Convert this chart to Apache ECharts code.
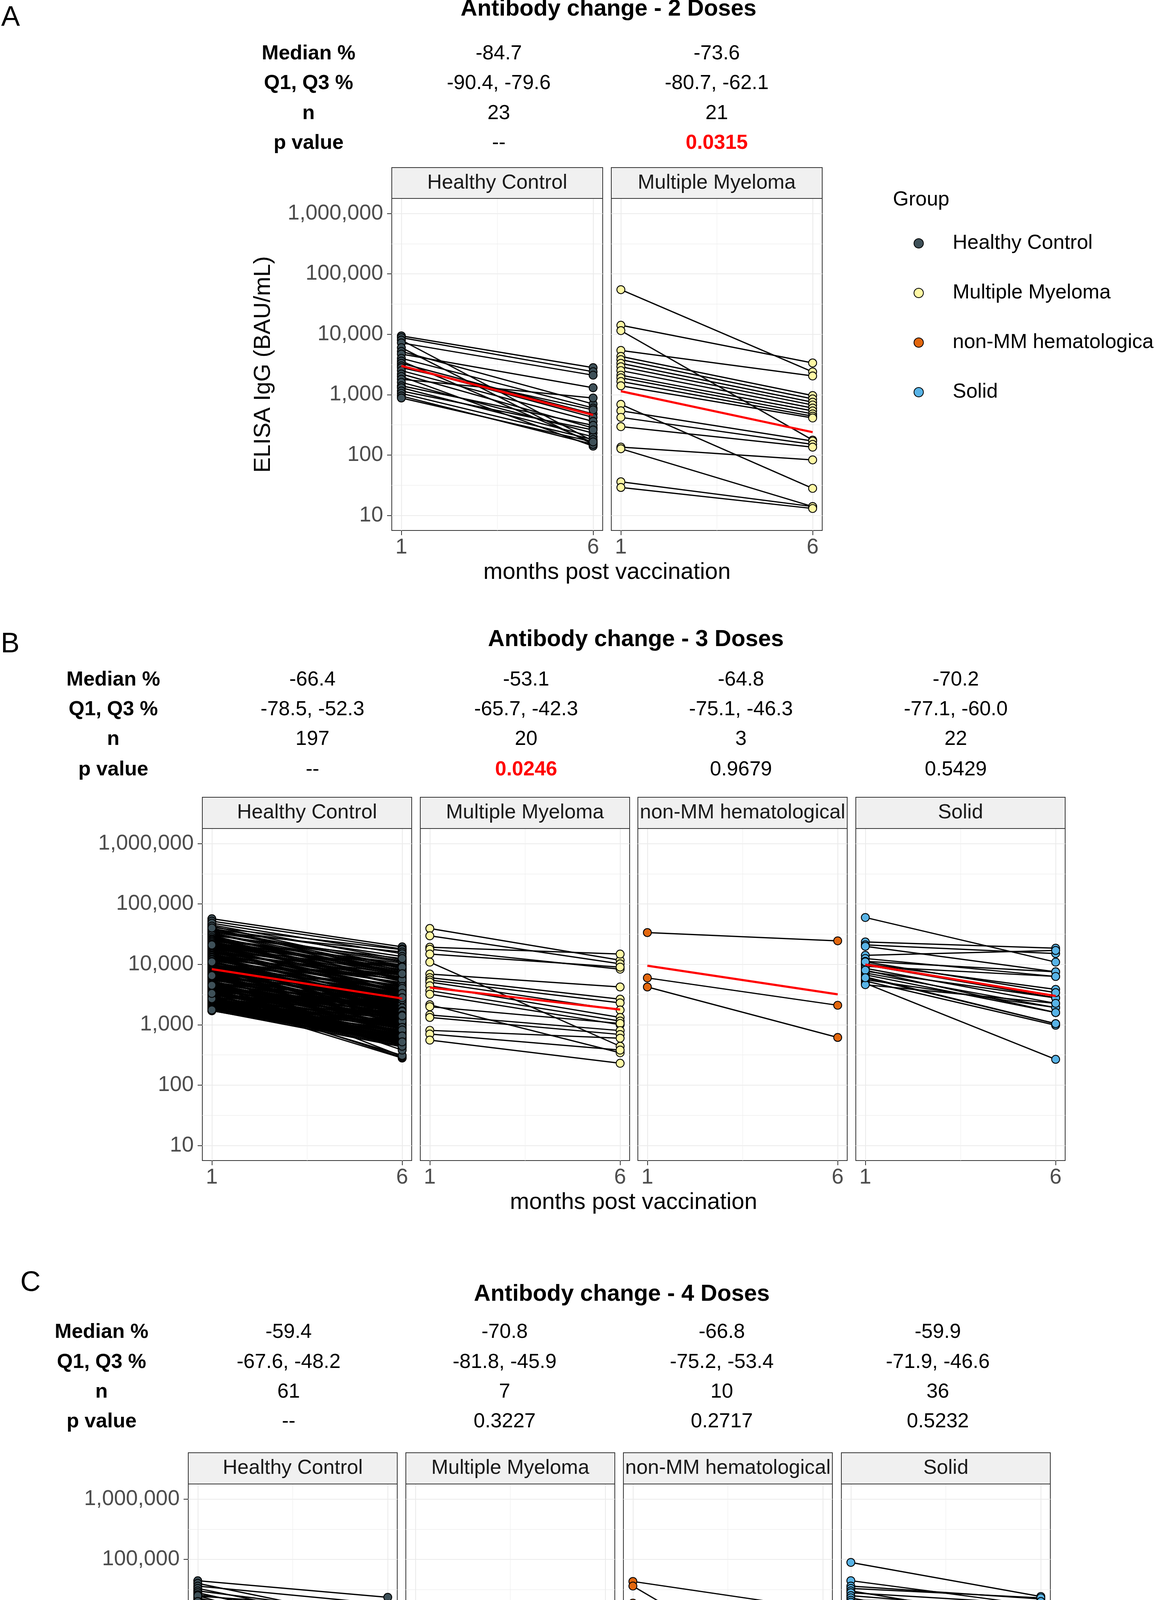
<!DOCTYPE html>
<html><head><meta charset="utf-8">
<script src="https://cdn.jsdelivr.net/npm/echarts@6/dist/echarts.min.js"></script>
<style>html,body{margin:0;padding:0;background:#fff}#c{width:2957px;height:4788px}</style>
</head><body><div id="c"></div>
<script>
// ---------------- DATA ----------------
const groupNames = ['Healthy Control', 'Multiple Myeloma', 'non-MM hematological', 'Solid'];
const xTimes = [1, 6];
const xTickLabels = ['1', '6'];
const yTickValues = [10, 100, 1000, 10000, 100000, 1000000];
const yTickLabels = ['10', '100', '1,000', '10,000', '100,000', '1,000,000'];
const yMinorValues = [31.6, 316, 3162, 31623, 316228];
const rowLetters = ['A', 'B', 'C'];
const rowTitles = ['Antibody change - 2 Doses', 'Antibody change - 3 Doses', 'Antibody change - 4 Doses'];
const statLabels = ['Median %', 'Q1, Q3 %', 'n', 'p value'];
const xAxisTitle = 'months post vaccination';
const yAxisTitle = 'ELISA IgG (BAU/mL)';
const legendTitle = 'Group';

// Row A: 2 doses
const aMedian = ['-84.7', '-73.6'];
const aQ1Q3 = ['-90.4, -79.6', '-80.7, -62.1'];
const aN = ['23', '21'];
const aP = ['--', '0.0315'];
const aHcMonth1 = [9400, 8800, 8000, 7200, 6000, 5200, 4700, 4000, 3600, 3300, 3000, 2800, 2500, 2200, 2000, 1800, 1600, 1400, 1300, 1150, 1050, 950, 880];
const aHcMonth6 = [2800, 2400, 170, 2100, 150, 700, 1300, 600, 160, 480, 420, 560, 360, 280, 140, 880, 230, 310, 200, 260, 180, 150, 165];
const aHcTrend = [2990, 461];
const aMmMonth1 = [54800, 14100, 11500, 5400, 4300, 3800, 3300, 2900, 2500, 2100, 1900, 1650, 1400, 690, 540, 420, 295, 135, 127, 36, 29];
const aMmMonth6 = [2380, 3350, 177, 2040, 966, 850, 750, 674, 600, 538, 480, 440, 411, 28, 170, 150, 135, 83, 14, 14, 13];
const aMmTrend = [1140, 239];

// Row B: 3 doses
const bMedian = ['-66.4', '-53.1', '-64.8', '-70.2'];
const bQ1Q3 = ['-78.5, -52.3', '-65.7, -42.3', '-75.1, -46.3', '-77.1, -60.0'];
const bN = ['197', '20', '3', '22'];
const bP = ['--', '0.0246', '0.9679', '0.5429'];
const bHcMonth1 = [
  57000, 52000, 45000, 41000, 38000, 35000, 33000, 31000, 29000, 27000,
  26000, 25000, 24000, 23000, 22000, 21000, 20000, 19500, 19000, 18000,
  17500, 17000, 16000, 15500, 15000, 14500, 14000, 13500, 13000, 12500,
  12000, 11500, 11000, 10800, 10500, 10000, 9700, 9400, 9100, 8800,
  8500, 8200, 8000, 7800, 7500, 7200, 7000, 6800, 6600, 6400,
  6200, 6000, 5800, 5600, 5400, 5200, 5000, 4850, 4700, 4550,
  4400, 4250, 4100, 4000, 3850, 3700, 3600, 3500, 3400, 3300,
  3200, 3100, 3000, 2900, 2800, 2700, 2600, 2500, 2450, 2400,
  2350, 2300, 2250, 2200, 2150, 2100, 2050, 2000, 1950, 1900,
  1850, 1800, 1750, 1700, 2600, 3000, 5000, 9000, 15000, 30000,
  48000, 43000, 39000, 36500, 34000, 32000, 30000, 28000, 26500, 25500,
  24500, 23500, 22500, 21500, 20500, 19800, 18500, 17800, 16500, 15800,
  15200, 14800, 14200, 13800, 13200, 12800, 12200, 11800, 11200, 10600,
  10200, 9900, 9500, 9200, 8900, 8700, 8300, 8100, 7900, 7600,
  7300, 7100, 6900, 6700, 6500, 6300, 6100, 5900, 5700, 5500,
  5300, 5100, 4950, 4800, 4650, 4500, 4350, 4200, 4050, 3950,
  3800, 3650, 3550, 3450, 3350, 3250, 3150, 3050, 2950, 2850,
  2750, 2650, 2550, 2480, 2420, 2380, 2320, 2280, 2220, 2180,
  2120, 2080, 2020, 1980, 1920, 1880, 1820, 1780, 1720, 2700,
  3300, 4500, 6500, 11000, 21000, 40000, 1760];
const bHcMonth6 = [
  19500, 18000, 12000, 17500, 9500, 16000, 8000, 11000, 7000, 9800,
  6500, 10500, 5200, 8800, 6000, 4500, 7500, 5800, 3900, 6200,
  4800, 3500, 5500, 4200, 3000, 5000, 3800, 2600, 4400, 3300,
  2400, 3600, 2900, 2100, 3100, 2700, 1900, 3400, 2300, 2800,
  1700, 2500, 2000, 1600, 2200, 3000, 1500, 1900, 2600, 1400,
  1800, 2100, 1300, 1700, 2400, 1200, 1600, 1100, 2000, 1450,
  1000, 1350, 1800, 950, 1250, 1550, 900, 1150, 1400, 850,
  1050, 1300, 800, 980, 1200, 750, 920, 700, 1100, 660,
  880, 620, 1000, 600, 820, 580, 760, 560, 700, 540,
  650, 520, 600, 500, 280, 290, 300, 2500, 900, 5500,
  15000, 9000, 13500, 8500, 11500, 7200, 12500, 6800, 9200, 5600,
  8200, 4600, 7800, 5300, 9000, 3600, 6800, 4100, 5900, 3400,
  6600, 2900, 4900, 3700, 2500, 5600, 3200, 4300, 2200, 3900,
  2000, 3200, 2600, 1800, 4000, 2300, 1500, 3100, 2700, 1300,
  2400, 1700, 3300, 1250, 2000, 2800, 1550, 1150, 2200, 1650,
  1050, 1900, 1400, 2600, 1250, 1100, 1700, 950, 1500, 1200,
  1300, 880, 1650, 1000, 780, 1250, 900, 1450, 720, 1100,
  850, 1000, 680, 950, 620, 780, 560, 1150, 640, 900,
  480, 700, 520, 820, 470, 600, 450, 650, 430, 310,
  420, 380, 440, 1400, 2800, 7000, 520];
const bHcTrend = [8320, 2720];
const bMmMonth1 = [39300, 29700, 19200, 17800, 14800, 10900, 6900, 6010, 5500, 5080, 4420, 3670, 3200, 2140, 1990, 1450, 1320, 806, 700, 556];
const bMmMonth6 = [11700, 10200, 14800, 8320, 9000, 440, 4220, 2650, 2300, 1750, 1320, 1150, 1000, 343, 1050, 800, 689, 598, 380, 230];
const bMmTrend = [4140, 1780];
const bNonMmMonth1 = [33600, 5960, 4220];
const bNonMmMonth6 = [24500, 2100, 615];
const bNonMmTrend = [9480, 3190];
const bSolidMonth1 = [59700, 23500, 21000, 19900, 14100, 12500, 11200, 10200, 9800, 9300, 8600, 7720, 7200, 6710, 6200, 5580, 5300, 4850, 4600, 11000, 8000, 6000];
const bSolidMonth6 = [10900, 18500, 15100, 7510, 17000, 6300, 7510, 3850, 2780, 6300, 2260, 2780, 1920, 1590, 1040, 1920, 980, 267, 2260, 3400, 1590, 1040];
const bSolidTrend = [9930, 2990];

// Row C: 4 doses
const cMedian = ['-59.4', '-70.8', '-66.8', '-59.9'];
const cQ1Q3 = ['-67.6, -48.2', '-81.8, -45.9', '-75.2, -53.4', '-71.9, -46.6'];
const cN = ['61', '7', '10', '36'];
const cP = ['--', '0.3227', '0.2717', '0.5232'];
const cHcMonth1 = [
  44200, 40000, 36000, 33000, 30000, 28000, 26000, 24500, 23000, 21500,
  20000, 19000, 18000, 17000, 16000, 15200, 14500, 13800, 13000, 12300,
  11700, 11100, 10500, 10000, 9500, 9000, 8600, 8200, 7800, 7400,
  7000, 6700, 6400, 6100, 5800, 5500, 5300, 5100, 4900, 4700,
  4500, 4300, 4100, 3950, 3800, 3650, 3500, 3350, 3200, 3100,
  3000, 2900, 2800, 2710, 25000, 15000, 9000, 6000, 4000, 12000, 20000];
const cHcMonth6 = [
  23500, 9000, 18000, 7500, 12000, 5500, 10000, 15000, 4500, 8500,
  6500, 3800, 9500, 5000, 7000, 3200, 6000, 4200, 2800, 5200,
  3600, 4800, 2500, 4000, 3000, 2200, 3500, 2700, 1900, 3300,
  2400, 2000, 2900, 1800, 2600, 1600, 2300, 1500, 2100, 1400,
  1700, 1300, 1900, 1200, 1600, 1450, 1150, 1350, 1100, 1250,
  1070, 1200, 1150, 1100, 3000, 1200, 1100, 5000, 2000, 1800, 4000];
const cHcTrend = [11400, 4740];
const cMmMonth1 = [16200, 14500, 12500, 2300, 1450, 832, 641];
const cMmMonth6 = [4740, 2710, 2210, 2010, 795, 128, 344];
const cMmTrend = [3330, 1090];
const cNonMmMonth1 = [43000, 36100, 18800, 11000, 9710, 5980, 5560, 5100, 2850, 141];
const cNonMmMonth6 = [14800, 508, 17500, 5820, 2900, 1840, 1390, 994, 1340, 62.5];
const cNonMmTrend = [6750, 1870];
const cSolidMonth1 = [
  88900, 44300, 36000, 33000, 30000, 28000, 25000, 23000, 21000, 19500,
  18000, 17000, 16000, 15000, 14000, 13000, 12200, 11500, 10800, 10200,
  9600, 9000, 8400, 7800, 7200, 6600, 6000, 5500, 5000, 4500,
  4000, 3600, 3200, 2800, 2500, 871];
const cSolidMonth6 = [
  24200, 17000, 22000, 23000, 9000, 18000, 14000, 6000, 20000, 11000,
  8000, 12000, 5000, 9500, 7000, 4000, 10000, 6500, 3500, 8000,
  3000, 5500, 2500, 7000, 2200, 4500, 1900, 3800, 1500, 1000,
  2800, 1200, 950, 1700, 900, 241];
const cSolidTrend = [12500, 4920];

// ---------------- ASSEMBLY ----------------
const rows = [
  { stats: [aMedian, aQ1Q3, aN, aP], groups: [0, 1],
    m1: [aHcMonth1, aMmMonth1], m6: [aHcMonth6, aMmMonth6], trend: [aHcTrend, aMmTrend] },
  { stats: [bMedian, bQ1Q3, bN, bP], groups: [0, 1, 2, 3],
    m1: [bHcMonth1, bMmMonth1, bNonMmMonth1, bSolidMonth1], m6: [bHcMonth6, bMmMonth6, bNonMmMonth6, bSolidMonth6],
    trend: [bHcTrend, bMmTrend, bNonMmTrend, bSolidTrend] },
  { stats: [cMedian, cQ1Q3, cN, cP], groups: [0, 1, 2, 3],
    m1: [cHcMonth1, cMmMonth1, cNonMmMonth1, cSolidMonth1], m6: [cHcMonth6, cMmMonth6, cNonMmMonth6, cSolidMonth6],
    trend: [cHcTrend, cMmTrend, cNonMmTrend, cSolidTrend] }
];

// ---------------- LAYOUT / STYLE ----------------
const FONT = '"Liberation Sans", Arial, Helvetica, sans-serif';
const groupColors = ['#3E5058', '#FFF8A4', '#E2670E', '#58B3E6'];
const layout = [
  { letter: [27, 46], title: [1558, 24], labelX: 790, colX: [1277, 1835], rowY: [138, 214, 291, 367],
    panelLeft: [1003, 1565], panelW: 540, panelTop: 508, panelH: 850, stripH: 79, xTitle: [1554, 1466] },
  { letter: [26, 1650], title: [1628, 1638], labelX: 290, colX: [800, 1347, 1897, 2447], rowY: [1741, 1817, 1893, 1971],
    panelLeft: [518, 1076, 1633, 2191], panelW: 536, panelTop: 2121, panelH: 850, stripH: 80, xTitle: [1622, 3079] },
  { letter: [78, 3285], title: [1592, 3314], labelX: 260, colX: [739, 1292, 1848, 2401], rowY: [3411, 3488, 3564, 3640],
    panelLeft: [482, 1039, 1596, 2154], panelW: 535, panelTop: 3799, panelH: 849, stripH: 80, xTitle: [1585, 4754] }
];
const yTitlePos = [675, 933];
const Y_MIN = 0.75, Y_MAX = 6.25, X_MIN = 0.75, X_MAX = 6.25;

const lg = v => Math.log10(v);
const yLog = yTickValues.map(lg);
const yMinorLog = yMinorValues.map(v => Math.round(lg(v) * 2) / 2);
function yLabel(v) {
  let best = 0;
  yLog.forEach((t, i) => { if (Math.abs(t - v) < Math.abs(yLog[best] - v)) best = i; });
  return yTickLabels[best];
}
function xLabel(v) {
  let best = 0;
  xTimes.forEach((t, i) => { if (Math.abs(t - v) < Math.abs(xTimes[best] - v)) best = i; });
  return xTickLabels[best];
}
function txt(text, x, y, opts) {
  opts = opts || {};
  return {
    type: 'text', x: x, y: y, rotation: opts.rotation || 0, silent: true, z: 10,
    style: {
      text: text, x: 0, y: 0,
      fill: opts.fill || '#000',
      font: (opts.weight || 'normal') + ' ' + (opts.size || 52) + 'px ' + FONT,
      align: opts.align || 'center', verticalAlign: 'middle',
      textAlign: opts.align || 'center', textVerticalAlign: 'middle'
    }
  };
}

const grids = [], xAxes = [], yAxes = [], series = [], graphics = [];
let g = 0;
rows.forEach((row, r) => {
  const L = layout[r];
  graphics.push(txt(rowLetters[r], L.letter[0], L.letter[1], { size: 72 }));
  graphics.push(txt(rowTitles[r], L.title[0], L.title[1], { size: 59, weight: 'bold' }));
  statLabels.forEach((lab, k) => {
    graphics.push(txt(lab, L.labelX, L.rowY[k], { weight: 'bold' }));
    row.stats[k].forEach((val, p) => {
      const isP = k === 3;
      const sig = isP && !isNaN(parseFloat(val)) && parseFloat(val) < 0.05;
      graphics.push(txt(val, L.colX[p], L.rowY[k], { fill: sig ? '#FF0000' : '#000', weight: sig ? 'bold' : 'normal' }));
    });
  });
  graphics.push(txt(xAxisTitle, L.xTitle[0], L.xTitle[1], { size: 59 }));

  row.groups.forEach((gi, p) => {
    const left = L.panelLeft[p];
    graphics.push({
      type: 'rect', silent: true, z: 5,
      shape: { x: left, y: L.panelTop - L.stripH, width: L.panelW, height: L.stripH },
      style: { fill: '#F0F0F0', stroke: '#333333', lineWidth: 2 }
    });
    graphics.push(txt(groupNames[gi], left + L.panelW / 2, L.panelTop - L.stripH / 2, { fill: '#1A1A1A' }));

    grids.push({ left: left, top: L.panelTop, width: L.panelW, height: L.panelH, show: true,
      borderColor: '#333333', borderWidth: 2, backgroundColor: '#fff' });
    xAxes.push({ gridIndex: g, type: 'value', min: X_MIN, max: X_MAX, position: 'bottom',
      axisLine: { show: false },
      axisTick: { show: true, customValues: xTimes, length: 12, lineStyle: { color: '#333333', width: 2 } },
      axisLabel: { show: true, customValues: xTimes, formatter: xLabel, fontSize: 55, fontFamily: FONT, color: '#4D4D4D', margin: 16 },
      splitLine: { show: true, lineStyle: { color: '#EBEBEB', width: 2.2 } } });
    xAxes.push({ gridIndex: g, type: 'value', min: X_MIN, max: X_MAX, position: 'top',
      axisLine: { show: false },
      axisTick: { show: false, customValues: [3.5] },
      axisLabel: { show: false, customValues: [3.5] },
      splitLine: { show: true, lineStyle: { color: '#EFEFEF', width: 1.3 } } });
    yAxes.push({ gridIndex: g, type: 'value', min: Y_MIN, max: Y_MAX, position: 'left',
      axisLine: { show: false },
      axisTick: { show: p === 0, customValues: yLog, length: 12, lineStyle: { color: '#333333', width: 2 } },
      axisLabel: { show: p === 0, customValues: yLog, formatter: yLabel, fontSize: 55, fontFamily: FONT, color: '#4D4D4D', margin: 22 },
      splitLine: { show: true, lineStyle: { color: '#EBEBEB', width: 2.2 } } });
    yAxes.push({ gridIndex: g, type: 'value', min: Y_MIN, max: Y_MAX, position: 'right',
      axisLine: { show: false },
      axisTick: { show: false, customValues: yMinorLog },
      axisLabel: { show: false, customValues: yMinorLog },
      splitLine: { show: true, lineStyle: { color: '#EFEFEF', width: 1.3 } } });

    const m1 = row.m1[p], m6 = row.m6[p];
    const n = Math.min(m1.length, m6.length);
    const pairs = [];
    for (let i = 0; i < n; i++) pairs.push({ coords: [[xTimes[0], lg(m1[i])], [xTimes[1], lg(m6[i])]] });
    series.push({ type: 'lines', coordinateSystem: 'cartesian2d', xAxisIndex: 2 * g, yAxisIndex: 2 * g,
      data: pairs, silent: true, z: 2, lineStyle: { color: '#000', width: 3.2, opacity: 1 } });
    const pts = m1.slice(0, n).map(v => [xTimes[0], lg(v)]).concat(m6.slice(0, n).map(v => [xTimes[1], lg(v)]));
    series.push({ type: 'scatter', name: groupNames[gi], xAxisIndex: 2 * g, yAxisIndex: 2 * g, data: pts,
      symbol: 'circle', symbolSize: 20.5, silent: true, z: 3,
      itemStyle: { color: groupColors[gi], borderColor: '#000', borderWidth: 2.2, opacity: 1 } });
    const t = row.trend[p];
    series.push({ type: 'line', name: 'trend', xAxisIndex: 2 * g, yAxisIndex: 2 * g,
      data: [[xTimes[0], lg(t[0])], [xTimes[1], lg(t[1])]], symbol: 'none', silent: true, z: 4,
      lineStyle: { color: '#FF0000', width: 5.5 } });
    g++;
  });
});
graphics.push(txt(yAxisTitle, yTitlePos[0], yTitlePos[1], { size: 59, rotation: Math.PI / 2 }));
graphics.push(txt(legendTitle, 2286, 512, { align: 'left' }));

const chart = echarts.init(document.getElementById('c'));
chart.setOption({
  animation: false,
  backgroundColor: '#ffffff',
  textStyle: { fontFamily: FONT },
  grid: grids, xAxis: xAxes, yAxis: yAxes, series: series,
  legend: {
    data: groupNames, orient: 'vertical', left: 2334, top: 592, icon: 'circle',
    itemWidth: 24, itemHeight: 24, itemGap: 75, selectedMode: false,
    itemStyle: { borderColor: '#000', borderWidth: 2 },
    textStyle: { fontSize: 52, fontFamily: FONT, color: '#000', lineHeight: 52, padding: [0, 0, 0, 70] }
  },
  graphic: graphics
});
</script></body></html>
